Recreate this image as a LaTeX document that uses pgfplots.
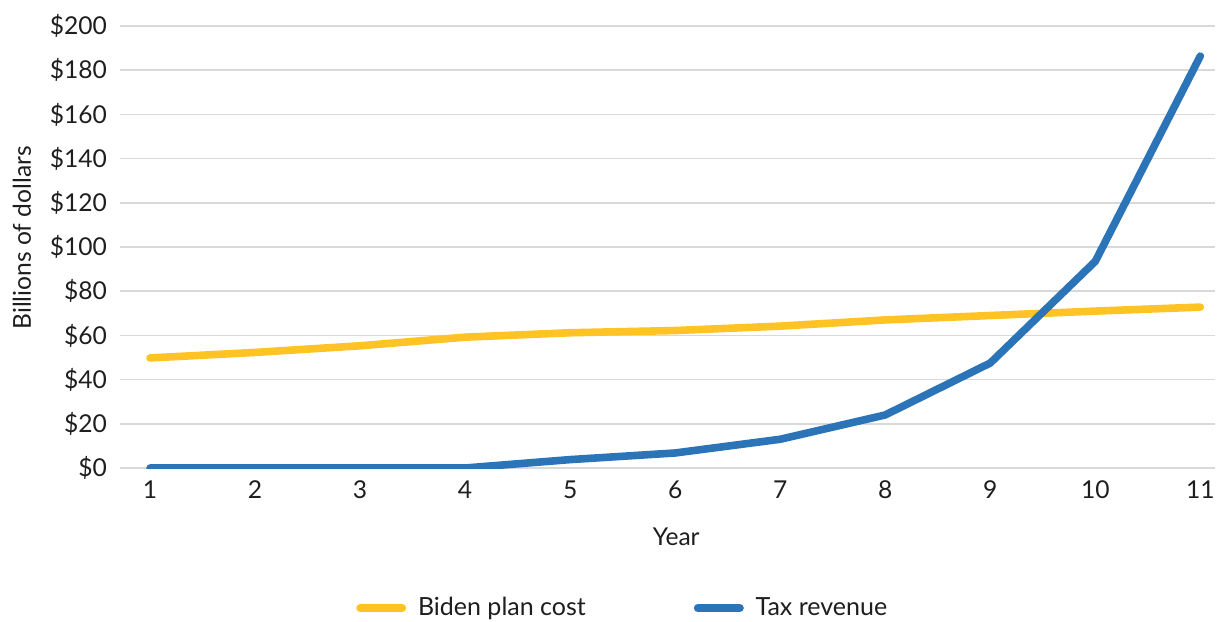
\documentclass[border=0pt]{standalone}
\usepackage{pgfplots}
\pgfplotsset{compat=1.18}
\usepackage{fontspec}
\setmainfont{Lato}
\definecolor{cyel}{HTML}{FFC325}
\definecolor{cblue}{HTML}{2B74B8}
\definecolor{ctext}{HTML}{1E1E1E}
\definecolor{cgrid}{HTML}{D9D9D9}
\begin{document}
\begin{tikzpicture}
\useasboundingbox (-60pt,-76.5pt) rectangle (550pt,234pt);
\begin{axis}[
  at={(0,0)}, anchor=south west,
  scale only axis, width=547.5pt, height=221pt,
  xmin=0.714, xmax=11.14, ymin=0, ymax=200,
  xtick={1,2,3,4,5,6,7,8,9,10,11},
  ytick={0,20,40,60,80,100,120,140,160,180,200},
  yticklabels={\$0,\$20,\$40,\$60,\$80,\$100,\$120,\$140,\$160,\$180,\$200},
  /pgf/number format/assume math mode=true,
  axis line style={draw=none},
  tick style={draw=none},
  major tick length=0pt,
  ymajorgrids, grid style={cgrid, line width=0.75pt},
  tick label style={font=\fontsize{12.3}{14}\selectfont, text=ctext},
  xticklabel style={yshift=-3pt},
  yticklabel style={xshift=-3pt},
  label style={font=\fontsize{12.3}{14}\selectfont, text=ctext},
  xlabel={Year},
  xlabel style={at={(axis description cs:0.508,-0.156)}, anchor=center},
  ylabel={Billions of dollars},
  ylabel style={at={(axis description cs:-0.0895,0.521)}, anchor=center},
  legend columns=2,
  legend style={at={(axis description cs:0.46,-0.317)}, anchor=center, draw=none,
    font=\fontsize{12.5}{14}\selectfont, text=ctext,
    /tikz/every even column/.append style={column sep=52pt}},
  legend image code/.code={\draw[#1, line cap=round, line width=4pt] (0pt,0pt) -- (21pt,0pt); \path (25pt,0pt);},
]
\addplot[cyel, line width=3.8pt, line cap=round, line join=round] coordinates {
(1,49.8) (2,52.3) (3,55.3) (4,59.2) (5,61.2) (6,62.2) (7,64.2) (8,67) (9,69) (10,71) (11,72.8)};
\addlegendentry{Biden plan cost}
\addplot[cblue, line width=3.8pt, line cap=round, line join=round] coordinates {
(1,0) (2,0) (3,0) (4,0) (5,3.8) (6,6.8) (7,13) (8,24) (9,47.5) (10,93.5) (11,186.4)};
\addlegendentry{Tax revenue}
\end{axis}
\end{tikzpicture}
\end{document}
